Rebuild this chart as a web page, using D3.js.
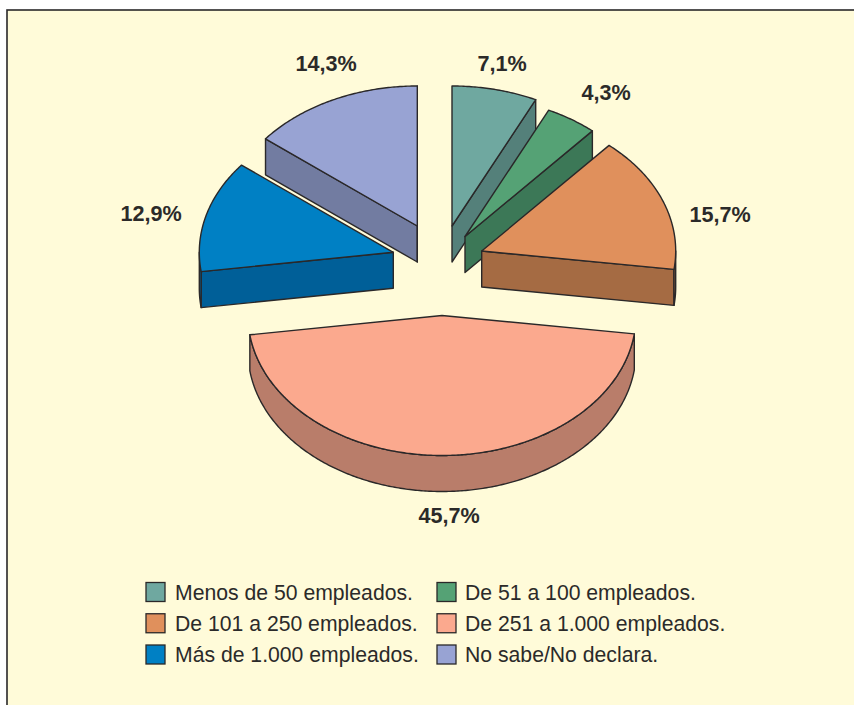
<!DOCTYPE html>
<html><head><meta charset="utf-8">
<script src="https://cdn.jsdelivr.net/npm/d3@7"></script>
<style>html,body{margin:0;padding:0;background:#fff}svg{display:block}text{font-family:"Liberation Sans",Arial,sans-serif;fill:#2b2a29}</style>
</head><body><script>
const categories=["Menos de 50 empleados.","De 51 a 100 empleados.","De 101 a 250 empleados.","De 251 a 1.000 empleados.","Más de 1.000 empleados.","No sabe/No declara."];
const values=[7.1,4.3,15.7,45.7,12.9,14.3];
const valueLabels=["7,1%","4,3%","15,7%","45,7%","12,9%","14,3%"];
const topColors=["#6fa8a0","#55a275","#e0905c","#fba98e","#0080c4","#98a3d3"];
const wallColors=["#54807a","#3c7857","#a56b43","#b97d6a","#005f98","#727ca1"];
const apexX=[452,465,481.7,442,393.3,417.3];
const apexY=[226,236.5,251,315.5,252.3,226];
const labelX=[502,606,720,449,151,326];
const labelY=[71,100,222,523,221,71];
const legendCol=[0,1,0,1,0,1];
const legendRow=[0,0,1,1,2,2];

const W=854,H=705,rx=194,ry=140,depth=36,ink="#2a2829";
const svg=d3.select("body").append("svg").attr("width",W).attr("height",H);
svg.append("rect").attr("x",7).attr("y",10).attr("width",W+20).attr("height",H+20)
  .attr("fill","#fffbd9").attr("stroke",ink).attr("stroke-width",1.6);

const arcs=d3.pie().sort(null).value(d=>d)(values);
const PI=Math.PI;
const sx=d3.scaleLinear().domain([0,1]).range([0,rx]);
const sy=d3.scaleLinear().domain([0,1]).range([0,ry]);
const pt=(i,t,dy=0)=>[apexX[i]+sx(Math.sin(t)),apexY[i]-sy(Math.cos(t))+dy];
const line=d3.line();

function arcPoints(i,a,b,dy){
  const n=Math.max(2,Math.ceil((b-a)/0.01));
  return d3.range(n+1).map(k=>pt(i,a+(b-a)*k/n,dy));
}
const order=[0,1,2,5,4,3];
order.forEach(i=>{
  const {startAngle:a,endAngle:b}=arcs[i];
  const g=svg.append("g");
  const apex=[apexX[i],apexY[i]];
  const wall=(pts)=>g.append("path").attr("d",line(pts)+"Z").attr("fill",wallColors[i])
    .attr("stroke",ink).attr("stroke-width",1.4).attr("stroke-linejoin","round");
  if(Math.sin(a)<0) wall([apex,pt(i,a),pt(i,a,depth),[apex[0],apex[1]+depth]]);
  if(Math.sin(b)>0) wall([apex,pt(i,b),pt(i,b,depth),[apex[0],apex[1]+depth]]);
  const lo=Math.max(a,PI/2),hi=Math.min(b,3*PI/2);
  if(hi>lo) wall([...arcPoints(i,lo,hi,0),...arcPoints(i,lo,hi,depth).reverse()]);
  g.append("path").attr("d",line([apex,...arcPoints(i,a,b,0)])+"Z").attr("fill",topColors[i])
    .attr("stroke",ink).attr("stroke-width",1.4).attr("stroke-linejoin","round");
  svg.append("text").attr("x",labelX[i]).attr("y",labelY[i]).attr("text-anchor","middle")
    .style("font-size","21.6px").style("font-weight","bold").text(valueLabels[i]);
});

const colX=d3.scaleOrdinal().domain([0,1]).range([146,437]);
const textGap=d3.scaleOrdinal().domain([0,1]).range([29,28]);
const rowY=d3.scalePoint().domain([0,1,2]).range([582.5,645]);
categories.forEach((c,i)=>{
  const x=colX(legendCol[i]),y=rowY(legendRow[i]);
  svg.append("rect").attr("x",x).attr("y",y).attr("width",19).attr("height",19)
    .attr("fill",topColors[i]).attr("stroke",ink).attr("stroke-width",1.3);
  svg.append("text").attr("x",x+textGap(legendCol[i])).attr("y",y+17).style("font-size","21.2px").text(c);
});
</script></body></html>
